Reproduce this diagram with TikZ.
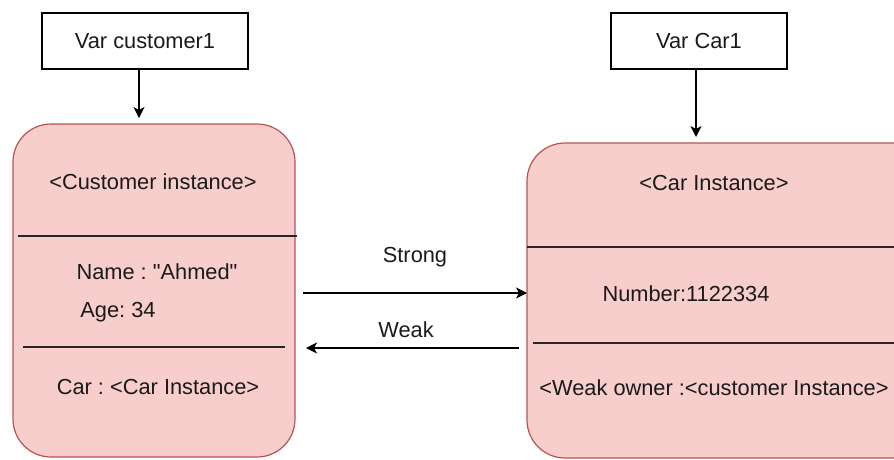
\documentclass[tikz,border=0pt]{standalone}
\usepackage{fontspec}
\setmainfont{Liberation Sans}[Ligatures=TeXOff]
\usetikzlibrary{arrows.meta}
\definecolor{instfill}{HTML}{F8CECC}
\definecolor{instdraw}{HTML}{B85450}
\definecolor{txt}{HTML}{1A1A1A}
\frenchspacing
\begin{document}
\begin{tikzpicture}[x=1pt,y=-1pt,
  every node/.style={font=\fontsize{21.8}{25}\selectfont, text=txt},
  varbox/.style={draw=black, line width=1.3pt, fill=white, minimum width=206pt, minimum height=56pt, inner sep=0pt},
  instbox/.style={draw=instdraw, line width=1.2pt, fill=instfill, rounded corners=38pt, inner sep=0pt},
  divider/.style={draw=black!85, line width=1.4pt},
  arr/.style={draw=black, line width=1.3pt, -{Stealth[length=11pt,width=11pt,inset=3pt]}},
  lbl/.style={inner sep=0pt}
]
\useasboundingbox (0,0) rectangle (894,459);
\clip (0,0) rectangle (894,459);
% Var boxes
\node[varbox] (vc) at (145,41) {Var customer1};
\node[varbox, minimum width=176pt] (vcar) at (699,41) {Var Car1};
% instance boxes
\node[instbox, minimum width=282pt, minimum height=333pt] (linst) at (154,290.5) {};
\node[instbox, minimum width=403pt, minimum height=315pt] (rinst) at (728.5,300.5) {};
% dividers
\coordinate (ld1a) at (18,236); \coordinate (ld1b) at (297,236);
\coordinate (ld2a) at (23,347); \coordinate (ld2b) at (285,347);
\coordinate (rd1a) at (527,247); \coordinate (rd1b) at (894,247);
\coordinate (rd2a) at (533,343); \coordinate (rd2b) at (894,343);
\draw[divider] (ld1a) -- (ld1b);
\draw[divider] (ld2a) -- (ld2b);
\draw[divider] (rd1a) -- (rd1b);
\draw[divider] (rd2a) -- (rd2b);
% texts left
\node[lbl] (lt1) at (153,182) {<Customer instance>};
\node[lbl] (lt2) at (157,272) {Name : "Ahmed"};
\node[lbl] (lt3) at (118,312) {Age: 34};
\node[lbl] (lt4) at (158,387) {Car : <Car Instance>};
% texts right
\node[lbl] (rt1) at (714,183) {<Car Instance>};
\node[lbl] (rt2) at (686,294) {Number:1122334};
\node[lbl] (rt3) at (714,388) {<Weak owner :<customer Instance>};
% var arrows
\coordinate (vca) at (139,118);
\coordinate (vcara) at (696,137);
\draw[arr] (vc.south -| vca) -- (vca);
\draw[arr] (vcar.south -| vcara) -- (vcara);
% strong / weak
\coordinate (sa) at (303,293);
\coordinate (sb) at (527,293);
\coordinate (wa) at (519,348);
\coordinate (wb) at (306,348);
\draw[arr] (sa) -- (sb);
\draw[arr] (wa) -- (wb);
\node[lbl] (strong) at (415,257) {Strong};
\node[lbl] (weak) at (406,330) {Weak};
\end{tikzpicture}
\end{document}
